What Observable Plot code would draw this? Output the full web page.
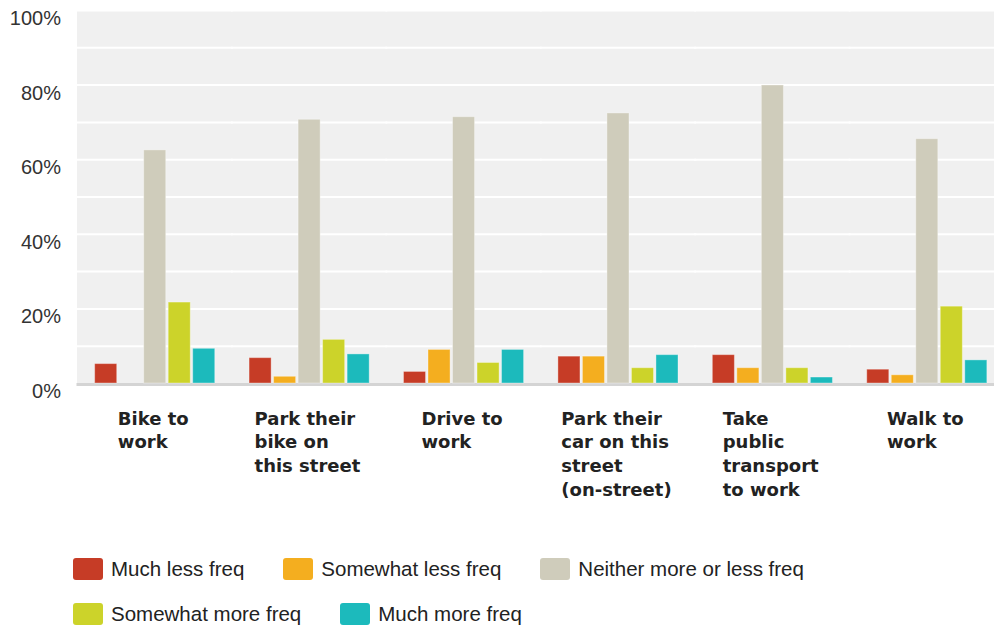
<!DOCTYPE html>
<html>
<head>
<meta charset="utf-8">
<script src="https://cdn.jsdelivr.net/npm/d3@7"></script>
<script src="https://cdn.jsdelivr.net/npm/@observablehq/plot@0.6"></script>
<style>
  html, body { margin: 0; padding: 0; background: #fff; overflow: hidden; }
  #legend {
    display: flex; flex-wrap: wrap; column-gap: 39px; row-gap: 23px;
    padding: 13px 0 0 73px; width: 921px; box-sizing: content-box;
    font-family: "Liberation Sans", Arial, sans-serif; font-size: 20.5px; color: #222;
  }
  .item { display: flex; align-items: center; height: 22px; }
  .sw { width: 30px; height: 22px; border-radius: 3px; margin-right: 8px; flex: none; }
</style>
</head>
<body>
<div id="chart"></div>
<div id="legend"></div>
<script>
const categories = [
  "Bike to work",
  "Park their bike on this street",
  "Drive to work",
  "Park their car on this street (on-street)",
  "Take public transport to work",
  "Walk to work"
];
const categoryLabels = [
  "Bike to\nwork",
  "Park their\nbike on\nthis street",
  "Drive to\nwork",
  "Park their\ncar on this\nstreet\n(on-street)",
  "Take\npublic\ntransport\nto work",
  "Walk to\nwork"
];
const series = [
  "Much less freq",
  "Somewhat less freq",
  "Neither more or less freq",
  "Somewhat more freq",
  "Much more freq"
];
const colors = ["#c63c26", "#f4ae1f", "#cfccbb", "#ccd32a", "#1cbabc"];

const muchLess     = [5.2, 6.8, 3.1, 7.2, 7.6, 3.7];
const somewhatLess = [0, 1.8, 9.0, 7.2, 4.1, 2.2];
const neither      = [62.5, 70.7, 71.4, 72.4, 79.9, 65.5];
const somewhatMore = [21.7, 11.7, 5.5, 4.1, 4.1, 20.6];
const muchMore     = [9.3, 7.8, 9.0, 7.6, 1.6, 6.2];

const yTicks = [0, 20, 40, 60, 80, 100];
const gridTicks = [10, 20, 30, 40, 50, 60, 70, 80, 90, 100];

const seriesValues = [muchLess, somewhatLess, neither, somewhatMore, muchMore];
const data = [];
categories.forEach((c, i) => {
  series.forEach((s, j) => data.push({category: c, series: s, value: seriesValues[j][i]}));
});
const labelOf = new Map(categories.map((c, i) => [c, categoryLabels[i]]));

const chart = Plot.plot({
  width: 994,
  height: 545,
  marginTop: 10,
  marginBottom: 162,
  marginLeft: 77.5,
  marginRight: 0,
  style: {fontFamily: "Liberation Sans, Arial, sans-serif", fontSize: "20px", overflow: "hidden", background: "#fff"},
  fx: {domain: categories, range: [77.5, 1004], padding: 0, round: false, axis: null},
  x: {domain: series, paddingInner: 0.1, paddingOuter: 0.7, round: false, axis: null},
  y: {domain: [0, 100], axis: null},
  color: {domain: series, range: colors},
  marks: [
    Plot.frame({fill: "#f0f0f0", stroke: "none", insetLeft: -1, insetRight: -1}),
    Plot.ruleY(gridTicks, {stroke: "#ffffff", strokeWidth: 2, insetLeft: -1, insetRight: -1}),
    Plot.ruleY([0], {stroke: "#d4d4d4", strokeWidth: 3, dy: 1, insetLeft: -1, insetRight: -1}),
    Plot.barY(data, {fx: "category", x: "series", y: "value", fill: "series",
      stroke: "#ffffff", strokeOpacity: 0.35, strokeWidth: 1}),
    Plot.axisY({ticks: [], label: null, line: true, stroke: "#dcdcdc", strokeWidth: 3, tickSize: 0}),
    Plot.axisY({ticks: yTicks, label: null, tickFormat: d => d + "%", tickSize: 0, tickPadding: 17,
      dy: 8, fill: "#333", fontSize: 20}),
    Plot.text(categories, {fx: d => d, text: d => labelOf.get(d), frameAnchor: "bottom",
      lineAnchor: "top", textAnchor: "start", dy: 24, lineHeight: 1.33,
      fontFamily: "DejaVu Sans, sans-serif", fontWeight: "bold", fontSize: 18, fill: "#222"})
  ]
});
document.getElementById("chart").appendChild(chart);

// center each category label block (lines left-aligned) under its group
chart.querySelectorAll('g[aria-label="text"] text').forEach(t => {
  const w = t.getBBox().width;
  const tr = t.getAttribute("transform") || "";
  t.setAttribute("transform", tr + ` translate(${-w / 2 - 2},0)`);
});

const legend = document.getElementById("legend");
series.forEach((s, i) => {
  const item = document.createElement("div");
  item.className = "item";
  const sw = document.createElement("span");
  sw.className = "sw";
  sw.style.background = colors[i];
  const lab = document.createElement("span");
  lab.textContent = s;
  item.appendChild(sw);
  item.appendChild(lab);
  legend.appendChild(item);
});
</script>
</body>
</html>
